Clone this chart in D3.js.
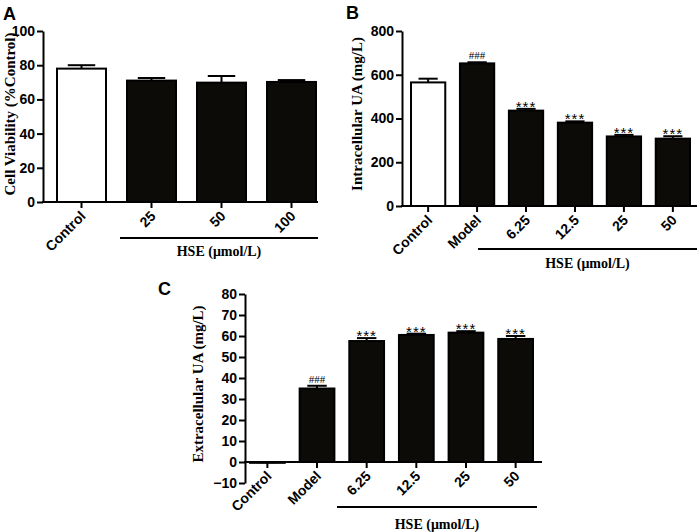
<!DOCTYPE html>
<html>
<head>
<meta charset="utf-8">
<script src="https://cdn.jsdelivr.net/npm/d3@7"></script>
<style>
  body { margin: 0; background: #fff; }
  svg { display: block; }
</style>
</head>
<body>
<svg id="fig" width="699" height="532"></svg>
<script>
// panel A - cell viability
const catsA = ['Control', '25', '50', '100'];
const meanA = [78, 71, 69.8, 70.2];
const errA = [2, 1.5, 3.9, 1.1];
const sigA = ['', '', '', ''];
const ticksA = [0, 20, 40, 60, 80, 100];

// panel B - intracellular UA
const catsB = ['Control', 'Model', '6.25', '12.5', '25', '50'];
const meanB = [565, 652, 436, 381, 318, 308];
const errB = [17, 5, 8, 6, 7, 11];
const sigB = ['', '###', '***', '***', '***', '***'];
const ticksB = [0, 200, 400, 600, 800];

// panel C - extracellular UA
const catsC = ['Control', 'Model', '6.25', '12.5', '25', '50'];
const meanC = [-0.4, 35, 57.6, 60.5, 61.6, 58.6];
const errC = [0.3, 1.3, 1.4, 0.6, 0.7, 1.4];
const sigC = ['', '###', '***', '***', '***', '***'];
const ticksC = [-10, 0, 10, 20, 30, 40, 50, 60, 70, 80];

const svg = d3.select('#fig');
const SANS = 'Liberation Sans, Arial, sans-serif';
const SERIF = 'Liberation Serif, Times New Roman, serif';

function drawPanel(p) {
  var g = svg.append('g');
  var y = d3.scaleLinear().domain([p.ticks[0], p.ticks[p.ticks.length - 1]]).range([p.yBottom, p.yTop]);
  var x = d3.scaleBand().domain(p.cats).range([p.bandL, p.bandR]).paddingInner(0.3).paddingOuter(0);
  var y0 = y(0);

  // bars
  p.cats.forEach(function(c, i) {
    var v = p.mean[i];
    var bx = x(c), bw = x.bandwidth();
    var cx = bx + bw / 2;
    // error bar (upper only)
    var ye = y(v + p.err[i]);
    g.append('line').attr('x1', cx).attr('x2', cx).attr('y1', y(v)).attr('y2', ye)
      .attr('stroke', '#000').attr('stroke-width', 2);
    g.append('line').attr('x1', cx - bw * 0.28).attr('x2', cx + bw * 0.28).attr('y1', ye).attr('y2', ye)
      .attr('stroke', '#000').attr('stroke-width', 2);
    g.append('rect').attr('x', bx).attr('width', bw)
      .attr('y', Math.min(y(v), y0)).attr('height', Math.abs(y0 - y(v)))
      .attr('fill', i === 0 ? '#fff' : '#0d0b08').attr('stroke', '#000').attr('stroke-width', 2);
    if (p.sig[i]) {
      var hash = p.sig[i] === '###';
      g.append('text').attr('x', cx).attr('y', hash ? ye - 3 : ye + 3)
        .attr('text-anchor', 'middle')
        .style('font-family', hash ? SERIF : SANS)
        .style('font-size', hash ? '11px' : '15px')
        .style('letter-spacing', hash ? '0px' : '1px')
        .text(p.sig[i]);
    }
  });

  // y axis
  var ya = g.append('g').attr('transform', 'translate(' + p.axL + ',0)')
    .call(d3.axisLeft(y).tickValues(p.ticks).tickSize(6).tickSizeOuter(0).tickPadding(2).tickFormat(d3.format('d')));
  ya.selectAll('path,line').attr('stroke', '#000').attr('stroke-width', 2);
  ya.selectAll('text').style('font-family', SANS).style('font-weight', 'bold').style('font-size', '14px').attr('fill', '#000');

  // x axis
  var xa = g.append('g').attr('transform', 'translate(0,' + y0 + ')')
    .call(d3.axisBottom(x).tickSize(6).tickSizeOuter(0));
  xa.select('.domain').remove();
  xa.selectAll('line').attr('stroke', '#000').attr('stroke-width', 2);
  xa.selectAll('text').attr('x', 0).attr('y', 0).attr('dy', 0)
    .attr('transform', 'translate(5,15) rotate(-45)')
    .attr('text-anchor', 'end')
    .style('font-family', SANS).style('font-weight', 'bold').style('font-size', '14px').attr('fill', '#000');
  g.append('line').attr('x1', p.axL - 1).attr('x2', p.axR).attr('y1', y0).attr('y2', y0)
    .attr('stroke', '#000').attr('stroke-width', 2);

  // HSE group bar and label
  g.append('line').attr('x1', p.hse[0]).attr('x2', p.hse[1]).attr('y1', p.hse[2]).attr('y2', p.hse[2])
    .attr('stroke', '#000').attr('stroke-width', 2);
  g.append('text').attr('x', (p.hse[0] + p.hse[1]) / 2).attr('y', p.hseText)
    .attr('text-anchor', 'middle')
    .style('font-family', SERIF).style('font-weight', 'bold').style('font-size', '14px')
    .text('HSE (\u03bcmol/L)');

  // y label
  g.append('text').attr('transform', 'translate(' + p.ylab[0] + ',' + p.ylab[1] + ') rotate(-90)')
    .attr('text-anchor', 'middle')
    .style('font-family', SERIF).style('font-weight', 'bold').style('font-size', '15px')
    .text(p.ylabel);

  // panel letter
  g.append('text').attr('x', p.letter[0]).attr('y', p.letter[1])
    .style('font-family', SANS).style('font-weight', 'bold').style('font-size', '18px')
    .text(p.name);
}

drawPanel({
  name: 'A', cats: catsA, mean: meanA, err: errA, sig: sigA, ticks: ticksA,
  yTop: 31, yBottom: 202, bandL: 57, bandR: 316, axL: 43, axR: 318,
  hse: [120, 318, 238], hseText: 256, ylab: [15, 114], letter: [3, 20],
  ylabel: 'Cell Viability (%Control)'
});
drawPanel({
  name: 'B', cats: catsB, mean: meanB, err: errB, sig: sigB, ticks: ticksB,
  yTop: 31, yBottom: 206, bandL: 411, bandR: 690, axL: 402, axR: 697,
  hse: [478, 697, 249], hseText: 268, ylab: [362, 114], letter: [346, 19],
  ylabel: 'Intracellular UA (mg/L)'
});
drawPanel({
  name: 'C', cats: catsC, mean: meanC, err: errC, sig: sigC, ticks: ticksC,
  yTop: 294, yBottom: 483, bandL: 250, bandR: 533, axL: 245, axR: 542,
  hse: [337, 537, 507], hseText: 529, ylab: [203, 384], letter: [158, 295],
  ylabel: 'Extracellular UA (mg/L)'
});
</script>
</body>
</html>
